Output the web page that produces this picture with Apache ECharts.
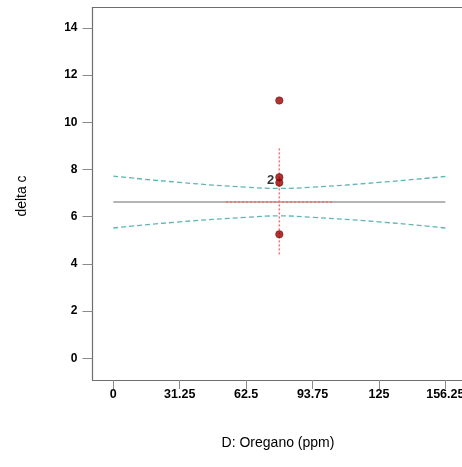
<!DOCTYPE html>
<html>
<head>
<meta charset="utf-8">
<script src="https://cdn.jsdelivr.net/npm/echarts@6/dist/echarts.min.js"></script>
<style>html,body{margin:0;padding:0;background:#fff;overflow:hidden;}#c{width:462px;height:467px;}</style>
</head>
<body>
<div id="c"></div>
<script>
// Data
var xTicks = [0, 31.25, 62.5, 93.75, 125, 156.25];
var yTicks = [0, 2, 4, 6, 8, 10, 12, 14];
var designX = 78.125;
var observed = [10.92, 7.67, 7.44, 5.25];
var countLabels = [{ x: 78.125, y: 7.55, text: '2' }];
var meanValue = 6.62;
var bandX = [0, 31.25, 62.5, 78.125, 93.75, 125, 156.25];
var bandUpper = [7.72, 7.45, 7.25, 7.20, 7.25, 7.45, 7.70];
var bandLower = [5.52, 5.78, 5.97, 6.03, 5.97, 5.78, 5.52];
var refHorizontal = [53, 103];
var refVertical = [4.4, 8.9];

var chart = echarts.init(document.getElementById('c'), null, { renderer: 'canvas' });
var font = 'Liberation Sans, Arial, sans-serif';
function pair(xs, ys) { return xs.map(function (x, i) { return [x, ys[i]]; }); }

var option = {
  animation: false,
  backgroundColor: '#fff',
  grid: { left: 92.5, top: 7.5, right: 0, bottom: 87, containLabel: false, outerBoundsMode: 'none' },
  xAxis: [{
    type: 'value', min: -9.8, max: 164.1,
    splitLine: { show: false },
    axisLine: { show: true, onZero: false, lineStyle: { color: '#6e6e6e', width: 1.2 } },
    axisTick: { show: true, length: 9, lineStyle: { color: '#8a8a8a' }, customValues: xTicks },
    axisLabel: { customValues: xTicks, margin: 8, color: '#000', fontWeight: 'bold', fontSize: 12.5, fontFamily: font,
      hideOverlap: false, formatter: function (v) { return String(v); } }
  }, {
    type: 'value', position: 'top', min: -9.8, max: 164.1,
    splitLine: { show: false },
    axisLine: { show: true, onZero: false, lineStyle: { color: '#6e6e6e', width: 1.2 } },
    axisTick: { show: false }, axisLabel: { show: false }
  }],
  yAxis: {
    type: 'value', min: -0.92, max: 14.86,
    splitLine: { show: false },
    axisLine: { show: true, onZero: false, lineStyle: { color: '#6e6e6e', width: 1.2 } },
    axisTick: { show: true, length: 10, lineStyle: { color: '#8a8a8a' }, customValues: yTicks },
    axisLabel: { customValues: yTicks, margin: 15, color: '#000', fontWeight: 'bold', fontSize: 12, fontFamily: font }
  },
  graphic: [
    { type: 'text', x: 22, y: 196, rotation: Math.PI / 2,
      style: { text: 'delta c', font: '14px ' + font, fill: '#000', align: 'center', verticalAlign: 'middle' } },
    { type: 'text', x: 278, y: 443,
      style: { text: 'D: Oregano (ppm)', font: '14px ' + font, fill: '#000', align: 'center', verticalAlign: 'middle' } }
  ],
  series: [
    { type: 'line', name: 'mean', data: [[xTicks[0], meanValue], [xTicks[5], meanValue]], symbol: 'none',
      lineStyle: { color: '#6b6b6b', width: 1.2 }, z: 2 },
    { type: 'line', name: 'upper', data: pair(bandX, bandUpper), smooth: true, symbol: 'none',
      lineStyle: { color: '#5fb5b5', width: 1.3, type: [5, 3] }, z: 3 },
    { type: 'line', name: 'lower', data: pair(bandX, bandLower), smooth: true, symbol: 'none',
      lineStyle: { color: '#5fb5b5', width: 1.3, type: [5, 3] }, z: 3 },
    { type: 'line', name: 'refH', data: [[refHorizontal[0], meanValue], [refHorizontal[1], meanValue]], symbol: 'none',
      lineStyle: { color: '#ff6060', width: 1.4, type: [2, 2] }, z: 4 },
    { type: 'line', name: 'refV', data: [[designX, refVertical[0]], [designX, refVertical[1]]], symbol: 'none',
      lineStyle: { color: '#ff6a6a', width: 1.5, type: [2, 2] }, z: 4 },
    { type: 'scatter', name: 'obs', data: observed.map(function (v) { return [designX, v]; }),
      symbol: 'circle', symbolSize: 7.5, itemStyle: { color: '#9b0000', borderColor: '#600000', borderWidth: 0.5 }, z: 6 },
    { type: 'scatter', name: 'count', data: countLabels.map(function (d) { return { value: [d.x, d.y], name: d.text }; }),
      symbolSize: 0, z: 7,
      label: { show: true, position: 'left', distance: 5, formatter: function (p) { return p.name; },
        color: '#000', fontWeight: 'bold', fontSize: 13, fontFamily: font } }
  ]
};
chart.setOption(option);
</script>
</body>
</html>
